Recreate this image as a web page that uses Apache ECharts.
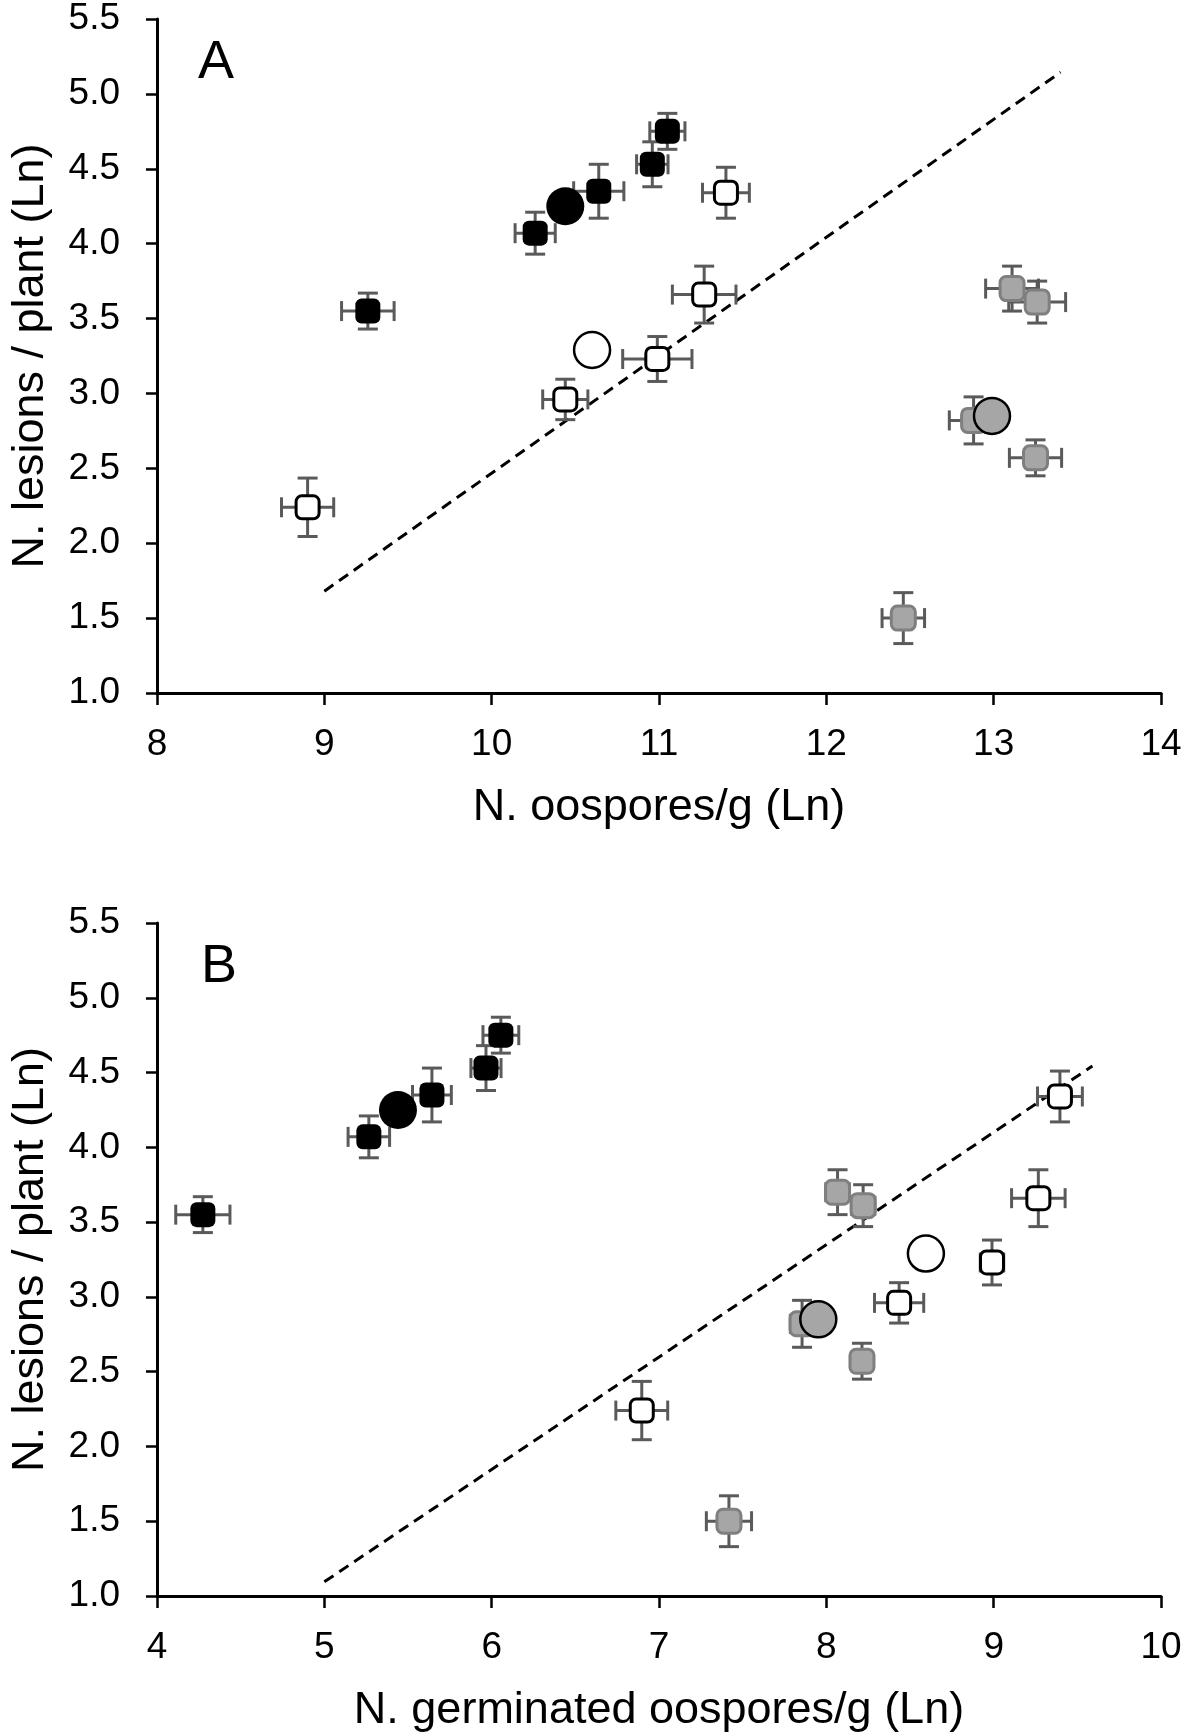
<!DOCTYPE html>
<html>
<head>
<meta charset="utf-8">
<script src="https://cdn.jsdelivr.net/npm/echarts@6/dist/echarts.min.js"></script>
<style>
  html, body { margin: 0; padding: 0; background: #fff; }
  #chart { width: 1192px; height: 1736px; }
</style>
</head>
<body>
<div id="chart"></div>
<script>
// lesions per plant (Ln) - same samples in both panels
var lesionsBlack = [4.75, 4.53, 4.35, 4.07, 3.55];
var lesionsBlackErr = [0.12, 0.15, 0.18, 0.14, 0.12];
var lesionsWhite = [4.34, 3.66, 3.23, 2.96, 2.24];
var lesionsWhiteErr = [0.17, 0.19, 0.15, 0.135, 0.195];
var lesionsGray = [3.70, 3.61, 2.82, 2.57, 1.50];
var lesionsGrayErr = [0.15, 0.14, 0.157, 0.12, 0.17];
var lesionsMean = [4.25, 3.29, 2.85]; // black, white, gray

// panel A: oospores/g (Ln)
var oosBlack = [11.05, 10.96, 10.64, 10.26, 9.26];
var oosBlackErr = [0.105, 0.094, 0.15, 0.12, 0.157];
var oosWhite = [11.40, 11.27, 10.99, 10.44, 8.90];
var oosWhiteErr = [0.14, 0.19, 0.207, 0.135, 0.156];
var oosGray = [13.11, 13.26, 12.88, 13.25, 12.46];
var oosGrayErr = [0.158, 0.17, 0.145, 0.156, 0.127];
var oosMean = [10.44, 10.60, 12.99];
var fitA = [[9.0, 1.68], [13.4, 5.145]];

// panel B: germinated oospores/g (Ln)
var germBlack = [6.055, 5.966, 5.643, 5.266, 4.274];
var germBlackErr = [0.107, 0.09, 0.116, 0.124, 0.162];
var germWhite = [9.396, 9.267, 8.99, 8.435, 6.897];
var germWhiteErr = [0.134, 0.16, 0.07, 0.147, 0.155];
var germGray = [8.067, 8.22, 7.855, 8.213, 7.418];
var germGrayErr = [0.07, 0.07, 0.07, 0.06, 0.135];
var germMean = [5.44, 8.595, 7.952];
var fitB = [[5.0, 1.095], [9.59, 4.544]];

var FONT = "Liberation Sans";

function pts(xs, ys) {
  return xs.map(function (x, i) { return [x, ys[i]]; });
}
function errPts(xs, ys, xe, ye) {
  return xs.map(function (x, i) { return [x, ys[i], xe[i], ye[i]]; });
}

function renderErr(params, api) {
  var x = api.value(0), y = api.value(1), ex = api.value(2), ey = api.value(3);
  var c = api.coord([x, y]);
  var l = api.coord([x - ex, y]);
  var r = api.coord([x + ex, y]);
  var t = api.coord([x, y + ey]);
  var b = api.coord([x, y - ey]);
  var cap = 10;
  var style = { stroke: "#5a5a5a", lineWidth: 3 };
  return {
    type: "group",
    children: [
      { type: "line", shape: { x1: l[0], y1: c[1], x2: r[0], y2: c[1] }, style: style },
      { type: "line", shape: { x1: l[0], y1: c[1] - cap, x2: l[0], y2: c[1] + cap }, style: style },
      { type: "line", shape: { x1: r[0], y1: c[1] - cap, x2: r[0], y2: c[1] + cap }, style: style },
      { type: "line", shape: { x1: c[0], y1: t[1], x2: c[0], y2: b[1] }, style: style },
      { type: "line", shape: { x1: c[0] - cap, y1: t[1], x2: c[0] + cap, y2: t[1] }, style: style },
      { type: "line", shape: { x1: c[0] - cap, y1: b[1], x2: c[0] + cap, y2: b[1] }, style: style },
    ],
  };
}

function xAxisOf(idx, name, min, max) {
  return {
    gridIndex: idx, type: "value", min: min, max: max, interval: 1,
    name: name, nameLocation: "middle", nameGap: 92,
    nameTextStyle: { fontFamily: FONT, fontSize: 45, color: "#000" },
    axisLine: { onZero: false, lineStyle: { color: "#000", width: 3 } },
    axisTick: { show: true, inside: false, length: 12, lineStyle: { color: "#000", width: 2.5 } },
    axisLabel: { fontFamily: FONT, fontSize: 37, color: "#000", margin: 33 },
    splitLine: { show: false },
  };
}
function yAxisOf(idx) {
  return {
    gridIndex: idx, type: "value", min: 1, max: 5.5, interval: 0.5,
    name: "N. lesions / plant (Ln)", nameLocation: "middle", nameGap: 104,
    nameTextStyle: { fontFamily: FONT, fontSize: 45, color: "#000" },
    axisLine: { show: true, onZero: false, lineStyle: { color: "#000", width: 3 } },
    axisTick: { show: true, inside: false, length: 11, lineStyle: { color: "#000", width: 2.5 } },
    axisLabel: {
      fontFamily: FONT, fontSize: 37, color: "#000", margin: 37,
      formatter: function (v) { return v.toFixed(1); },
    },
    splitLine: { show: false },
  };
}

function panelSeries(idx, xb, xbe, xw, xwe, xg, xge, xm, fit) {
  var list = [
    {
      type: "line", data: fit, symbol: "none", z: 1,
      lineStyle: { color: "#000", width: 3, type: [11, 7] },
    },
    {
      type: "custom", renderItem: renderErr, z: 2,
      data: errPts(xb, lesionsBlack, xbe, lesionsBlackErr)
        .concat(errPts(xw, lesionsWhite, xwe, lesionsWhiteErr))
        .concat(errPts(xg, lesionsGray, xge, lesionsGrayErr)),
    },
    {
      type: "scatter", symbol: "roundRect", symbolSize: 25, z: 3,
      data: pts(xb, lesionsBlack), itemStyle: { color: "#000", opacity: 1 },
    },
    {
      type: "scatter", symbol: "roundRect", symbolSize: 23, z: 3,
      data: pts(xw, lesionsWhite),
      itemStyle: { color: "#fff", borderColor: "#000", borderWidth: 3, opacity: 1 },
    },
    {
      type: "scatter", symbol: "roundRect", symbolSize: 24, z: 3,
      data: pts(xg, lesionsGray),
      itemStyle: { color: "#a6a6a6", borderColor: "#7f7f7f", borderWidth: 3, opacity: 1 },
    },
    {
      type: "scatter", symbol: "circle", symbolSize: 38, z: 4,
      data: [[xm[0], lesionsMean[0]]], itemStyle: { color: "#000", opacity: 1 },
    },
    {
      type: "scatter", symbol: "circle", symbolSize: 36, z: 4,
      data: [[xm[1], lesionsMean[1]]],
      itemStyle: { color: "#fff", borderColor: "#000", borderWidth: 2.5, opacity: 1 },
    },
    {
      type: "scatter", symbol: "circle", symbolSize: 36, z: 4,
      data: [[xm[2], lesionsMean[2]]],
      itemStyle: { color: "#a6a6a6", borderColor: "#000", borderWidth: 2.5, opacity: 1 },
    },
  ];
  list.forEach(function (s) {
    s.xAxisIndex = idx;
    s.yAxisIndex = idx;
    s.silent = true;
  });
  return list;
}

var chart = echarts.init(document.getElementById("chart"), null, { renderer: "canvas" });
var option = {
  animation: false,
  backgroundColor: "#fff",
  title: [
    { text: "A", left: 198, top: 36, padding: 0,
      textStyle: { fontFamily: FONT, fontSize: 54, fontWeight: "normal", color: "#000" } },
    { text: "B", left: 201, top: 940, padding: 0,
      textStyle: { fontFamily: FONT, fontSize: 54, fontWeight: "normal", color: "#000" } },
  ],
  grid: [
    { left: 153, top: 19, width: 1008, height: 674 },
    { left: 153, top: 923, width: 1008, height: 673 },
  ],
  xAxis: [
    xAxisOf(0, "N. oospores/g (Ln)", 8, 14),
    xAxisOf(1, "N. germinated oospores/g (Ln)", 4, 10),
  ],
  yAxis: [yAxisOf(0), yAxisOf(1)],
  series: panelSeries(0, oosBlack, oosBlackErr, oosWhite, oosWhiteErr, oosGray, oosGrayErr, oosMean, fitA)
    .concat(panelSeries(1, germBlack, germBlackErr, germWhite, germWhiteErr, germGray, germGrayErr, germMean, fitB)),
};
chart.setOption(option);
</script>
</body>
</html>
